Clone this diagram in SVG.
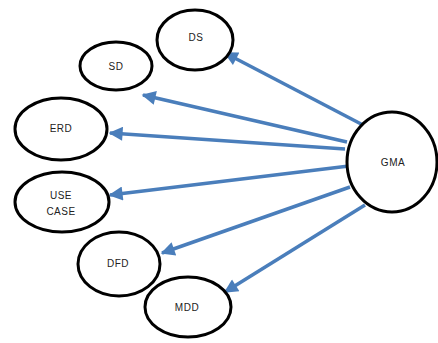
<svg xmlns="http://www.w3.org/2000/svg" width="438" height="343" viewBox="0 0 438 343">
<style>
.n{fill:#fff;stroke:#000;stroke-width:3}
.t{font-family:"Liberation Sans",Arial,sans-serif;font-size:10px;fill:#222;text-anchor:middle;dominant-baseline:central;letter-spacing:0.5px}
.c{stroke:#4a7ebb;stroke-width:3.5;fill:none}
</style>
<defs>
<marker id="a" viewBox="0 0 10 10" refX="9" refY="5" markerWidth="4.6" markerHeight="4" orient="auto" markerUnits="strokeWidth">
<path d="M0,0 L10,5 L0,10 Z" fill="#4a7ebb"/>
</marker>
</defs>
<rect width="438" height="343" fill="#fff"/>
<g id="connectors">
<line class="c" x1="363" y1="125" x2="225" y2="53" marker-end="url(#a)"/>
<line class="c" x1="347" y1="142" x2="143" y2="95" marker-end="url(#a)"/>
<line class="c" x1="345" y1="149" x2="110" y2="133" marker-end="url(#a)"/>
<line class="c" x1="349" y1="166" x2="110" y2="195" marker-end="url(#a)"/>
<line class="c" x1="350" y1="187" x2="162" y2="253" marker-end="url(#a)"/>
<line class="c" x1="365" y1="205" x2="225" y2="292" marker-end="url(#a)"/>
</g>
<g id="DS"><ellipse class="n" cx="195" cy="40" rx="38" ry="30"/><text class="t" x="196" y="37">DS</text></g>
<g id="SD"><ellipse class="n" cx="116" cy="66" rx="36" ry="24"/><text class="t" x="116" y="66">SD</text></g>
<g id="ERD"><ellipse class="n" cx="61" cy="129" rx="46" ry="31"/><text class="t" x="61" y="128">ERD</text></g>
<g id="USECASE"><ellipse class="n" cx="62" cy="202" rx="47" ry="30"/><text class="t" x="61" y="195">USE</text><text class="t" x="61" y="211">CASE</text></g>
<g id="DFD"><ellipse class="n" cx="119" cy="264" rx="41" ry="32"/><text class="t" x="118" y="263">DFD</text></g>
<g id="MDD"><ellipse class="n" cx="188" cy="307" rx="43" ry="30"/><text class="t" x="187" y="307">MDD</text></g>
<g id="GMA"><ellipse class="n" cx="392" cy="162" rx="45" ry="50"/><text class="t" x="393" y="162">GMA</text></g>
</svg>
